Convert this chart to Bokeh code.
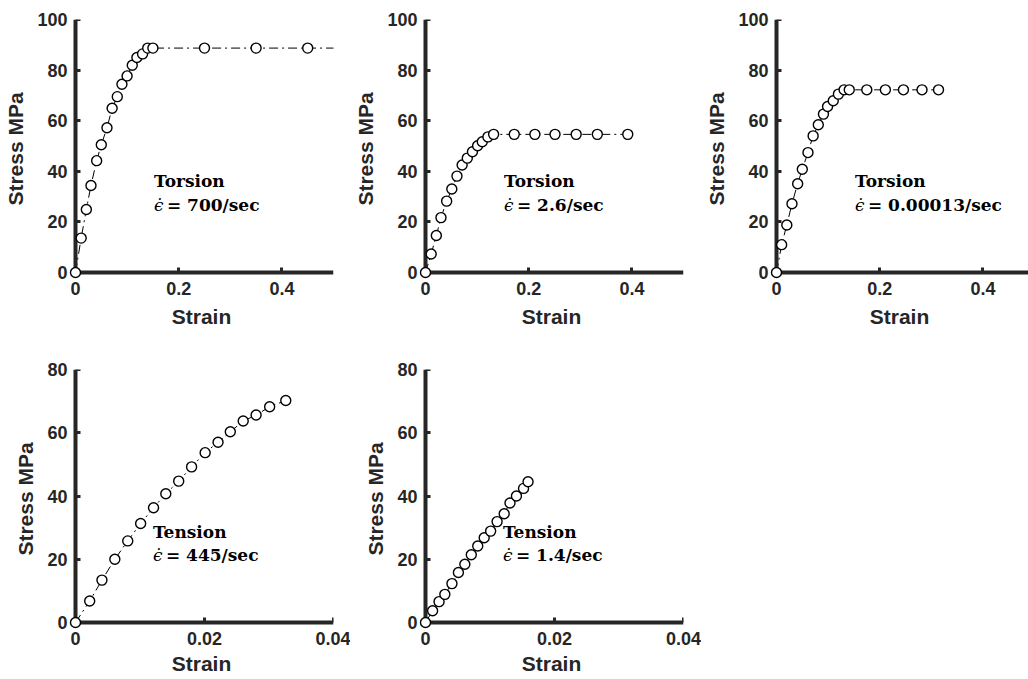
from bokeh.plotting import figure
from bokeh.layouts import column, row
from bokeh.models import Range1d, FixedTicker, Label, LinearAxis
from bokeh.embed import file_html
from bokeh.resources import INLINE

# ---------------- data ----------------
torsion_700_strain = [0, 0.011, 0.021, 0.030, 0.041, 0.050, 0.061, 0.071, 0.081, 0.090,
                      0.100, 0.110, 0.119, 0.130, 0.140, 0.150, 0.250, 0.350, 0.450, 0.550]
torsion_700_stress = [0, 13.6, 24.9, 34.4, 44.2, 50.5, 57.2, 64.9, 69.5, 74.4,
                      77.7, 81.9, 85.0, 86.4, 88.7, 88.7, 88.7, 88.7, 88.7, 88.7]

torsion_2p6_strain = [0, 0.011, 0.021, 0.030, 0.041, 0.051, 0.061, 0.071, 0.081, 0.091,
                      0.101, 0.110, 0.121, 0.132, 0.172, 0.212, 0.251, 0.292, 0.333, 0.392]
torsion_2p6_stress = [0, 7.3, 14.6, 21.7, 28.2, 33.0, 38.1, 42.5, 45.2, 47.7,
                      50.1, 51.7, 53.6, 54.6, 54.6, 54.6, 54.6, 54.6, 54.6, 54.6]

torsion_slow_strain = [0, 0.010, 0.020, 0.030, 0.041, 0.050, 0.061, 0.071, 0.081, 0.091,
                       0.099, 0.110, 0.120, 0.131, 0.141, 0.175, 0.211, 0.246, 0.282, 0.314]
torsion_slow_stress = [0, 11.0, 18.8, 27.2, 35.1, 40.8, 47.4, 54.0, 58.4, 62.6,
                       65.6, 67.9, 70.5, 72.2, 72.2, 72.2, 72.2, 72.2, 72.2, 72.2]

tension_445_strain = [0, 0.0022, 0.0041, 0.0061, 0.0081, 0.0101, 0.0121, 0.0140, 0.0160,
                      0.0180, 0.0201, 0.0221, 0.0240, 0.0260, 0.0280, 0.0301, 0.0326]
tension_445_stress = [0, 6.8, 13.4, 20.0, 25.8, 31.3, 36.3, 40.7, 44.7,
                      49.2, 53.7, 57.0, 60.3, 63.7, 65.6, 68.2, 70.2]

tension_1p4_strain = [0, 0.0011, 0.0021, 0.0030, 0.0041, 0.0051, 0.0061, 0.0071, 0.0081,
                      0.0091, 0.0101, 0.0111, 0.0122, 0.0131, 0.0141, 0.0152, 0.0159]
tension_1p4_stress = [0, 3.7, 6.6, 8.9, 12.3, 15.8, 18.4, 21.4, 24.2,
                      26.8, 28.9, 31.9, 34.4, 37.8, 40.0, 42.4, 44.5]

torsion_x_ticks = [0, 0.2, 0.4]
torsion_x_labels = ["0", "0.2", "0.4"]
torsion_y_ticks = [0, 20, 40, 60, 80, 100]
tension_x_ticks = [0, 0.02, 0.04]
tension_x_labels = ["0", "0.02", "0.04"]
tension_y_ticks = [0, 20, 40, 60, 80]

torsion_xmax, torsion_ymax = 0.5, 100
tension_xmax, tension_ymax = 0.04, 80

x_title = "Strain"
y_title = "Stress MPa"

# ---------------- layout constants ----------------
DATA_W, DATA_H, PAD = 258, 253, 6
MB_L, MB_T = 69, 19
AX = "#262626"


def label_style(ax):
    ax.axis_line_color = None
    ax.major_tick_line_color = None
    ax.minor_tick_line_color = None
    ax.major_tick_in = 0
    ax.major_tick_out = 0
    ax.major_label_text_font = "Liberation Sans"
    ax.major_label_text_font_style = "bold"
    ax.major_label_text_font_size = "18px"
    ax.major_label_text_color = AX
    ax.axis_label_text_font = "Liberation Sans"
    ax.axis_label_text_font_style = "bold"
    ax.axis_label_text_font_size = "21px"
    ax.axis_label_text_color = AX


def panel(xs, ys, xmax, ymax, xticks, xlabels, yticks, width, height,
          mb_r, kind, rate, ann_x, ann_y1, ann_y2, xs2):
    frame_w = width - MB_L - mb_r
    frame_h = DATA_H + PAD
    ppx = DATA_W / xmax
    ppy = DATA_H / ymax
    x0 = -PAD / ppx
    y0 = -PAD / ppy
    x1 = x0 + frame_w / ppx + xmax * 1e-6
    y1 = ymax * (1 + 1e-6)
    p = figure(width=width, height=height, output_backend="svg", toolbar_location=None,
               x_range=Range1d(x0, x1), y_range=Range1d(y0, y1),
               min_border_left=MB_L, min_border_right=mb_r, min_border_top=MB_T,
               min_border_bottom=height - MB_T - frame_h)
    p.outline_line_color = None
    p.grid.visible = False
    p.background_fill_color = "white"
    p.border_fill_color = "white"

    p.line(xs, ys, line_color="black", line_width=1, line_dash="9 4 2 4")
    pts = p.scatter(xs, ys, marker="circle", size=10, fill_color="white",
                    line_color="black", line_width=1.4)
    pts.level = "overlay"

    # axis lines and ticks, drawn at the data origin
    xa, ya = p.xaxis[0], p.yaxis[0]
    xa.ticker = FixedTicker(ticks=xticks)
    ya.ticker = FixedTicker(ticks=yticks)
    xa.bounds = (0, xmax)
    ya.bounds = (0, ymax)
    for ax, ticks in ((xa, xticks), (ya, yticks)):
        ax.fixed_location = 0
        ax.axis_line_width = 4
        ax.axis_line_color = AX
        ax.major_tick_line_width = 3
        ax.major_tick_line_color = AX
        ax.major_tick_in = 5
        ax.major_tick_out = 0
        ax.minor_tick_line_color = None
        ax.major_label_overrides = {t: "" for t in ticks}

    # tick labels and titles
    xl = LinearAxis(ticker=FixedTicker(ticks=xticks),
                    major_label_overrides={t: l for t, l in zip(xticks, xlabels)},
                    axis_label=x_title)
    label_style(xl)
    xl.major_label_standoff = 3
    xl.axis_label_standoff = xs2
    p.add_layout(xl, "below")

    yl = LinearAxis(ticker=FixedTicker(ticks=yticks), axis_label=y_title)
    label_style(yl)
    yl.major_label_standoff = 2
    yl.axis_label_standoff = 7
    p.add_layout(yl, "left")

    common = dict(text_color="black", text_font="DejaVu Serif", text_font_size="17px",
                  text_baseline="alphabetic", text_align="left")
    p.add_layout(Label(x=ann_x, y=ann_y1, text=kind, text_font_style="bold", **common))
    p.add_layout(Label(x=ann_x, y=ann_y2, text="\u03f5\u0307", text_font_style="italic", **common))
    p.add_layout(Label(x=ann_x, y=ann_y2, x_offset=13, text="= " + rate + "/sec",
                       text_font_style="bold", **common))
    return p


TOP_H, BOT_H = 350, 329

p1 = panel(torsion_700_strain, torsion_700_stress, torsion_xmax, torsion_ymax,
           torsion_x_ticks, torsion_x_labels, torsion_y_ticks, 350, TOP_H, 17,
           "Torsion", "700", 0.152, 36.3, 26.5, 7)
p2 = panel(torsion_2p6_strain, torsion_2p6_stress, torsion_xmax, torsion_ymax,
           torsion_x_ticks, torsion_x_labels, torsion_y_ticks, 351, TOP_H, 18,
           "Torsion", "2.6", 0.152, 36.3, 26.5, 7)
p3 = panel(torsion_slow_strain, torsion_slow_stress, torsion_xmax, torsion_ymax,
           torsion_x_ticks, torsion_x_labels, torsion_y_ticks, 327, TOP_H, 0,
           "Torsion", "0.00013", 0.152, 36.3, 26.5, 7)
p4 = panel(tension_445_strain, tension_445_stress, tension_xmax, tension_ymax,
           tension_x_ticks, tension_x_labels, tension_y_ticks, 350, BOT_H, 17,
           "Tension", "445", 0.0120, 28.6, 21.4, 4)
p5 = panel(tension_1p4_strain, tension_1p4_stress, tension_xmax, tension_ymax,
           tension_x_ticks, tension_x_labels, tension_y_ticks, 351, BOT_H, 18,
           "Tension", "1.4", 0.0120, 28.6, 21.4, 4)

layout = column(row(p1, p2, p3, spacing=0), row(p4, p5, spacing=0), spacing=0)

open("out.html", "w").write(file_html(layout, INLINE))
